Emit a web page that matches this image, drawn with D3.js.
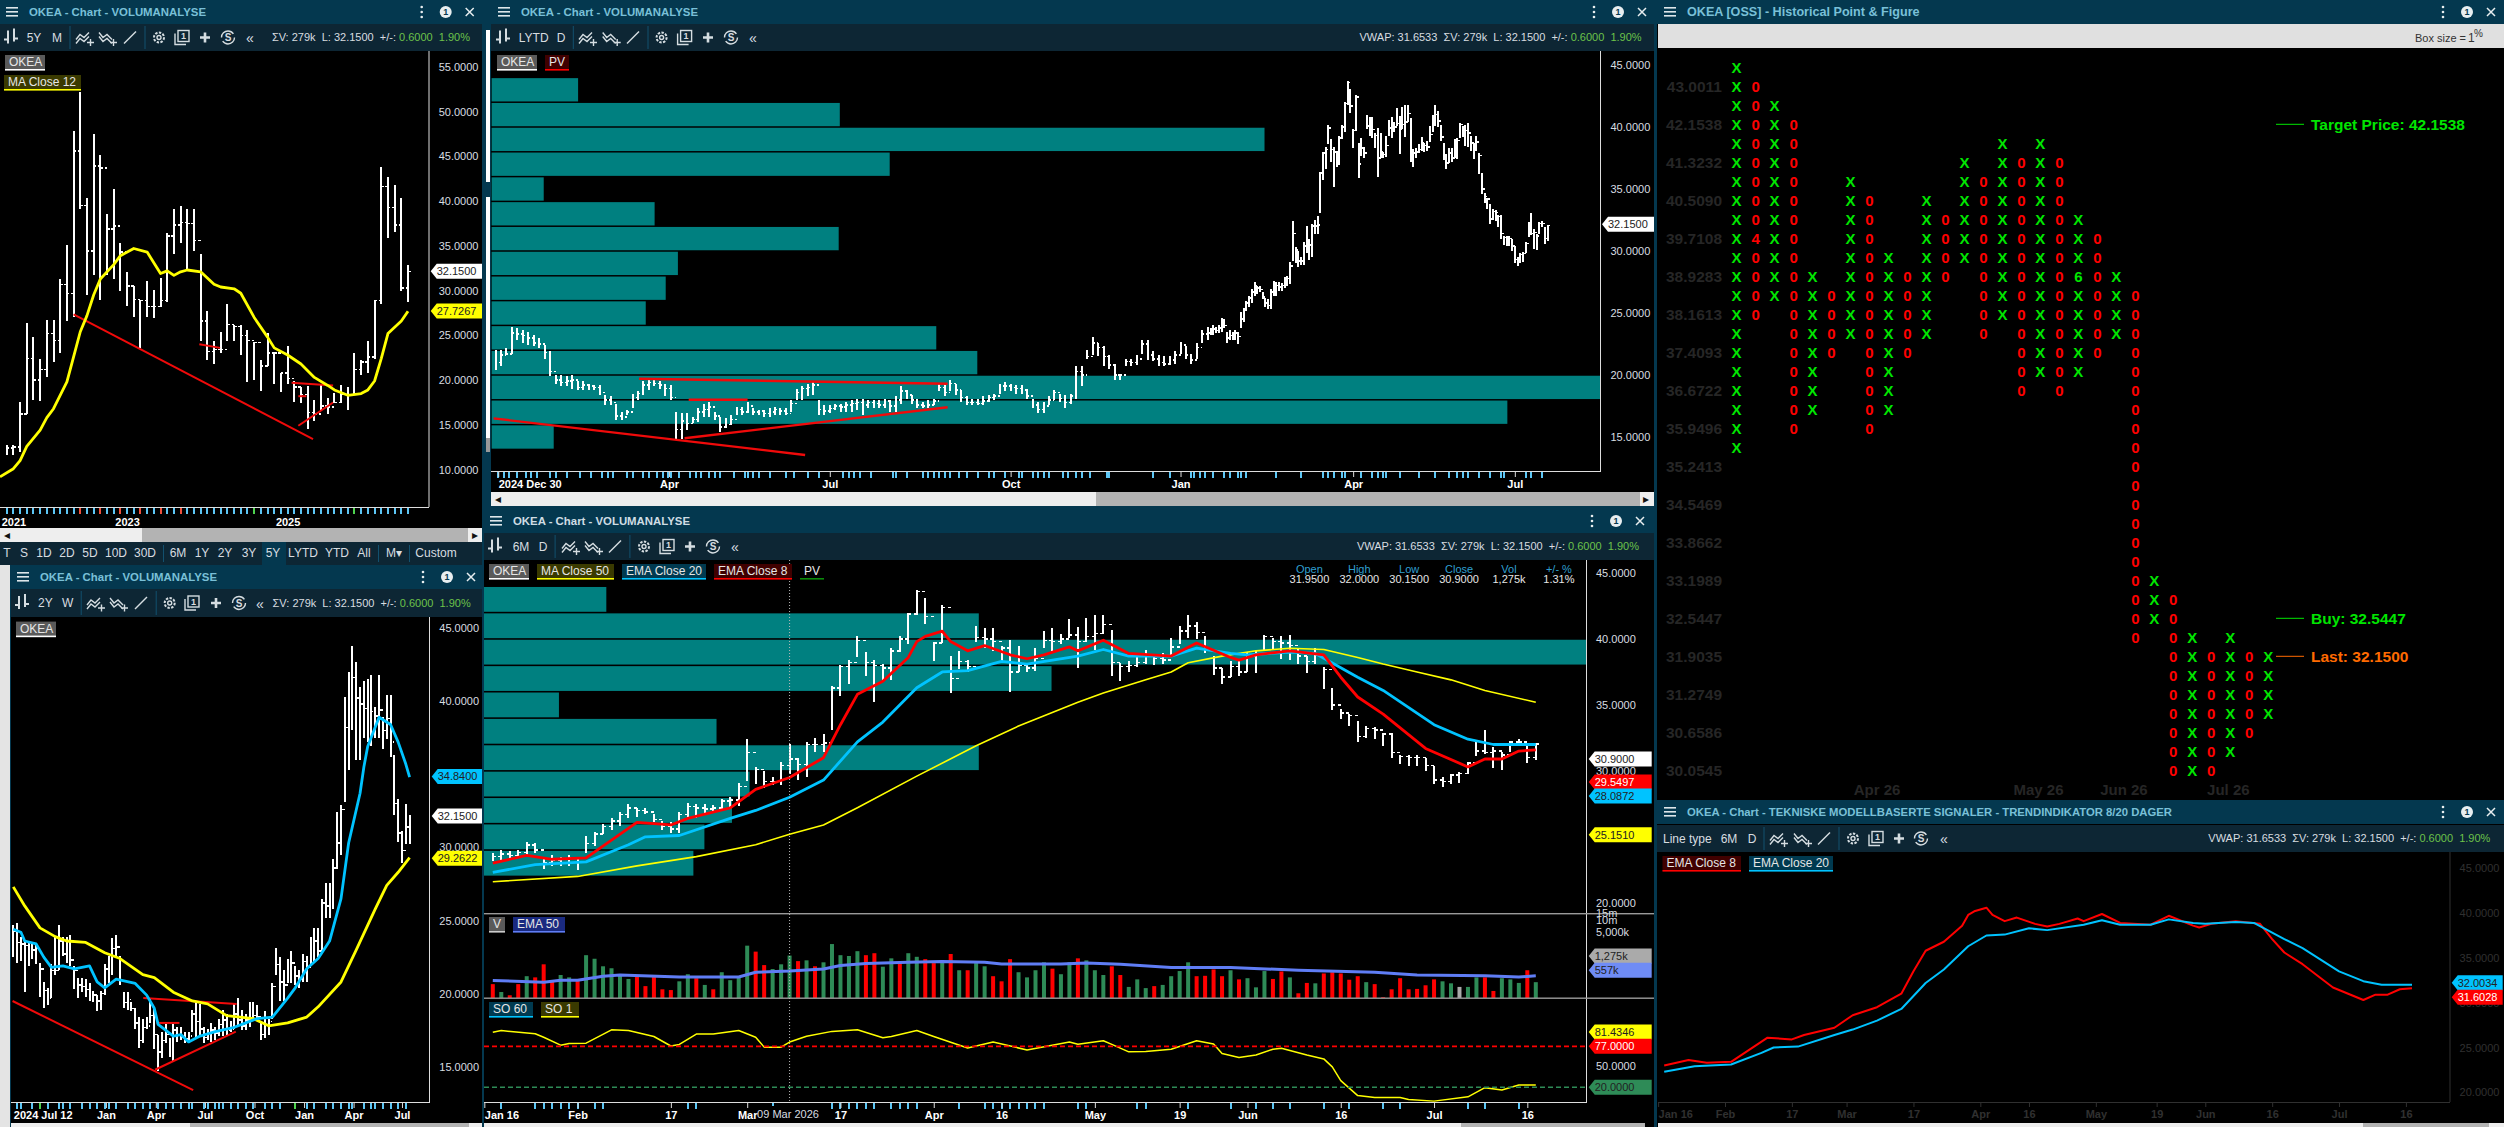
<!DOCTYPE html>
<html>
<head>
<meta charset="utf-8">
<script src="https://cdn.jsdelivr.net/npm/d3@7"></script>
<style>
  html, body { margin: 0; padding: 0; background: #04384f; overflow: hidden; }
  svg { display: block; }
  text { font-family: 'Liberation Sans', Arial, sans-serif; }
</style>
</head>
<body>
<script>
// monthly bars, 5Y panel: [high, low, close]
const monthlyBars = [
  [12.8,11.6,12.4],[12.8,11.6,12.5],[17.5,12.0,16.2],[26.4,16.2,22.4],[24.8,17.8,20.0],[22.4,17.7,21.2],[26.7,20.4,25.2],[26.7,22.0,24.4],[31.3,23.0,30.7],[35.1,26.6,29.7],
  [47.8,27.0,45.6],[52.2,39.1,39.5],[40.3,29.5,34.4],[47.5,31.7,43.9],[45.2,28.9,43.7],[38.6,31.7,36.9],[41.3,31.3,37.2],[35.3,29.9,34.3],[32.1,28.3,30.5],[30.5,27.0,29.0],
  [29.0,23.6,28.9],[31.1,27.0,28.2],[30.1,26.9,28.2],[31.4,28.2,28.9],[36.4,28.7,36.1],[39.1,34.1,37.3],[39.4,35.3,37.6],[39.1,32.3,37.5],[39.1,34.4,35.6],[34.1,24.4,26.6],
  [27.7,22.2,23.2],[24.4,21.8,23.4],[25.4,23.0,23.4],[28.5,24.4,26.2],[26.2,24.4,26.0],[26.2,22.8,25.0],[25.6,19.8,24.4],[24.2,20.0,24.2],[22.2,18.8,21.6],[25.3,21.6,23.0],
  [23.0,19.6,23.0],[20.8,18.7,20.8],[23.8,19.6,20.2],[19.9,17.6,19.2],[19.2,17.4,18.4],[19.3,14.5,16.4],[17.8,15.4,16.2],[19.4,16.6,17.1],[18.0,16.2,17.0],[18.6,17.4,17.5],
  [19.5,17.4,18.4],[19.2,16.7,18.4],[23.0,18.4,21.2],[22.2,20.6,22.0],[24.4,20.8,22.6],[29.0,22.4,28.9],[43.8,28.5,41.6],[42.7,35.9,39.3],[41.8,36.5,37.3],[40.3,29.9,30.3],
  [32.9,28.7,32.15]
];
// [bar number, value]
const monthlyMa12 = [[-1,9.2],[1,10.1],[2,11.0],[3,12.6],[5,14.4],[6,15.8],[7,16.8],[9,19.8],[10,22.6],[11,25.4],[12,27.2],[13,29.5],[14,31.3],[16,32.9],[17,33.9],[19,34.7],[21,34.3],[23,31.9],[24,32.2],[25,31.7],[26,32.1],[27,32.3],[29,32.1],[31,30.7],[32,30.4],[34,30.2],[35,29.7],[37,27.0],[39,24.8],[40,23.6],[42,22.8],[44,21.8],[46,20.3],[48,19.4],[49,18.9],[51,18.3],[53,18.5],[54,18.9],[55,19.9],[56,22.4],[57,25.2],[59,26.6],[60,27.7]];
const monthlyTrend = [[10,27.35,45.8,13.4],[42.6,19.7,48.8,19.4],[43.6,14.9,48.8,17.5],[28.8,24.0,31.9,23.6],[43.6,18.2,44.8,18.2]];
const monthlyRedTicks = [11,14,17,20,23,26];
const monthlyGreenTicks = [37,52];
const monthlyTickBars = [1,18,42];
const monthlyTickLabels = ['2021','2023','2025'];

// weekly bars, 2Y panel: [high, low, close]
const weeklyBars = [
  [24.7,22.5,24.3],[24.8,22.1,23.5],[23.9,22.2,23.4],[23.5,20.1,23.3],[23.5,21.9,22.8],[23.4,22.4,23.0],[23.3,22.0,23.1],[22.1,19.8,21.7],[20.8,19.0,20.2],[20.4,19.2,19.7],
  [22.0,19.7,21.6],[23.9,21.3,21.6],[24.7,21.6,23.6],[23.9,22.6,22.7],[23.9,22.1,23.1],[24.0,21.9,22.3],[21.9,20.3,21.6],[21.1,19.7,20.6],[21.1,20.1,20.5],[21.0,19.8,20.3],
  [20.7,19.5,20.1],[20.2,19.4,19.9],[19.9,18.8,19.5],[20.2,18.9,20.0],[22.0,19.9,21.7],[22.6,20.7,22.4],[23.8,21.3,23.1],[24.0,22.6,23.2],[22.6,20.6,20.9],[20.1,19.0,19.4],
  [20.1,18.9,19.6],[19.4,18.8,19.0],[19.0,17.6,18.0],[18.4,16.3,16.8],[18.3,16.6,17.7],[18.4,17.6,17.8],[19.7,18.0,18.5],[19.0,16.2,17.2],[17.2,14.7,16.0],[17.4,15.6,16.8],
  [17.9,16.6,17.2],[17.0,15.7,16.4],[17.9,15.4,17.5],[17.7,16.7,17.2],[17.7,16.8,17.0],[17.4,16.6,16.9],[17.4,16.6,17.1],[18.9,17.4,18.6],[19.4,17.0,18.1],[19.3,17.1,17.6],
  [17.7,16.6,17.0],[17.6,16.8,17.2],[18.0,16.7,17.5],[17.7,16.8,17.3],[18.3,17.1,17.9],[18.9,17.1,18.2],[18.6,17.2,17.5],[18.1,17.4,17.6],[19.3,17.6,18.6],[19.7,17.7,18.2],
  [18.9,17.5,17.8],[18.6,17.5,18.2],[19.4,17.7,18.8],[19.4,18.1,18.5],[19.2,18.1,18.4],[18.1,16.8,17.2],[18.8,17.0,17.9],[18.3,17.2,18.1],[20.7,18.3,20.5],[23.1,21.3,22.0],
  [22.5,19.5,20.8],[21.6,19.5,20.6],[22.4,20.7,21.5],[22.9,20.7,22.1],[21.9,20.6,21.2],[21.6,20.4,21.0],[22.7,20.8,22.2],[22.6,20.8,21.8],[23.9,22.0,23.4],[24.5,22.1,23.6],
  [24.5,22.5,22.9],[26.5,22.9,26.2],[27.6,25.2,26.0],[27.6,25.2,27.0],[29.2,25.8,28.6],[32.4,28.5,30.3],[32.9,29.5,32.6],[40.3,33.1,38.2],[42.0,35.3,40.5],[43.8,38.0,41.6],
  [42.7,36.0,40.2],[41.0,36.0,39.8],[41.4,37.5,39.5],[41.5,37.2,38.9],[41.8,36.9,39.3],[39.6,37.5,39.0],[41.8,37.5,39.4],[38.9,36.7,38.0],[40.4,37.4,38.8],[40.4,36.2,37.2],
  [36.3,32.2,33.0],[33.3,30.4,31.0],[31.1,28.9,29.8],[33.0,30.2,31.4],[32.2,30.2,32.15]
];
const weeklyEma = [[0,24.4],[2,24.2],[3,23.6],[6,23.4],[8,22.5],[10,21.8],[13,21.9],[16,21.7],[20,21.9],[22,20.8],[24,20.4],[27,21.0],[32,20.7],[35,19.9],[37,19.0],[38,17.9],[42,17.1],[44,17.2],[46,16.7],[49,17.1],[53,17.4],[58,17.7],[61,18.0],[64,18.3],[68,18.4],[72,19.7],[74,20.4],[77,21.7],[80,22.4],[83,23.6],[86,26.5],[88,30.3],[91,33.7],[92,35.5],[93,36.9],[96,38.9],[99,38.4],[101,37.2],[103,35.7],[104,34.8]];
const weeklyMa = [[0,27.3],[3,26.0],[7,24.5],[11,23.9],[14,23.6],[19,23.5],[24,22.8],[28,22.4],[34,21.3],[37,21.1],[42,20.1],[47,19.5],[51,19.3],[56,18.5],[63,18.3],[67,17.8],[72,18.0],[77,18.4],[80,19.1],[86,20.8],[90,23.0],[95,25.8],[98,27.4],[101,28.3],[104,29.3]];
const weeklyTrend = [[-0.2,19.5,47.2,13.4],[34.1,19.7,58.6,19.3],[37.2,14.8,58.4,17.4],[37.6,18,43.6,18]];
const weeklyMinorTicks = [1,2,5,7,9,12,13,15,18,20,22,24,25,27,30,32,34,36,38,40,42,44,46,47,50,51,53,54,55,57,59,61,63,66,68,70,74,77,79,82,84,86,88,89,92,94,95,97,99,101,103];
const weeklyGreenTicks = [7,74];
const weeklyTickBars = [0,24.3,37.4,50.3,63.3,76.3,89.3,102];
const weeklyTickLabels = ['2024 Jul 12','Jan','Apr','Jul','Oct','Jan','Apr','Jul'];

// 2025 part of the LYTD panel, one bar for each second trading day: [high, low, close]
const lytd2025Bars = [
  [22.0,20.4,21.0],[22.0,20.7,21.6],[22.2,21.6,21.7],[23.9,21.7,23.4],[23.8,22.8,23.3],[23.6,22.6,23.2],[23.5,22.4,23.0],[23.2,22.3,22.6],[23.0,22.2,22.5],[22.4,21.3,21.8],
  [21.9,19.9,20.3],[20.0,19.3,19.6],[20.0,19.1,19.4],[19.9,19.1,19.5],[20.0,18.9,19.6],[19.5,18.8,19.0],[19.5,18.8,19.2],[19.3,18.8,19.1],[19.2,18.8,19.0],[19.2,18.4,18.6],
  [18.4,17.6,18.0],[18.3,17.6,17.8],[17.7,16.4,16.7],[17.0,16.4,16.6],[17.2,16.8,17.0],[18.5,17.3,18.2],[18.7,18.0,18.5],[19.5,18.4,19.2],[19.6,18.8,19.4],[19.6,19.1,19.3],
  [19.5,18.9,19.2],[19.3,18.3,18.9],[19.2,18.0,18.2],[17.0,14.8,15.6],[16.9,14.8,16.3],[16.9,15.6,16.1],[16.6,16.1,16.4],[17.3,16.2,17.0],[17.7,16.6,17.2],[17.8,16.6,17.4],
  [17.0,16.4,16.7],[16.6,15.4,15.8],[16.5,15.7,16.0],[16.8,16.0,16.4],[17.4,16.8,17.2],[17.4,16.8,17.0],[17.8,16.9,17.5],[17.3,16.8,17.0],[17.2,16.8,17.1],[17.2,16.6,16.9],
  [17.3,16.6,17.0],[17.4,16.8,17.2],[17.3,16.8,17.1],[17.3,16.8,16.9],[18.0,17.0,17.7],[18.9,18.0,18.6],[19.1,18.0,18.9],[19.3,18.3,19.0],[19.5,18.4,19.2],[18.0,16.8,17.2],
  [17.6,16.8,17.1],[17.6,16.9,17.3],[17.7,17.2,17.5],[17.7,17.0,17.4],[17.8,17.0,17.6],[18.0,17.0,17.7],[18.1,17.2,17.8],[18.1,16.8,17.6],[18.0,17.3,17.8],[18.0,17.3,17.7],
  [18.0,17.3,17.6],[18.1,17.3,17.9],[18.0,17.0,17.5],[18.3,17.0,18.0],[19.1,17.7,18.7],[18.8,18.1,18.4],[18.4,17.7,18.0],[18.1,17.3,17.6],[17.8,17.3,17.5],[18.0,17.3,17.6],
  [18.1,17.6,17.9],[19.3,18.7,19.0],[19.3,18.3,18.6],[19.6,18.7,19.3],[19.3,18.4,18.8],[18.8,17.8,18.2],[18.3,17.6,17.8],[18.1,17.6,17.8],[18.1,17.6,17.7],[18.3,17.6,17.9],
  [18.4,17.8,18.2],[18.5,18.0,18.3],[19.3,18.5,19.1],[19.4,18.7,19.1],[19.3,18.7,19.0],[19.2,18.5,18.9],[19.2,18.5,18.8],[18.9,18.1,18.3],[18.1,17.3,17.6],[17.8,16.9,17.2],
  [17.8,16.9,17.5],[18.3,17.6,18.0],[18.8,18.0,18.6],[18.5,17.8,18.1],[18.4,17.3,17.8],[18.5,17.7,18.3],[20.7,18.1,20.3],[20.7,19.1,20.0],[22.0,21.3,21.5],[23.1,21.6,22.6],
  [22.6,21.5,22.2],[22.3,20.7,21.5],[21.6,20.5,20.8],[20.9,19.6,20.0],[20.1,19.6,20.0],[21.3,20.7,21.1],[21.3,20.7,21.0],[21.6,20.8,21.3],[22.8,21.7,22.5],[22.8,21.2,21.6],
  [21.9,21.1,21.3],[21.6,20.7,21.0],[21.5,20.7,20.9],[21.5,20.8,21.2],[21.9,20.9,21.6],[22.7,21.7,22.4],[22.3,21.3,21.6],[21.7,20.9,21.2],[22.6,21.3,22.2],[23.6,22.6,23.3],[23.9,22.8,23.4]
];
const lytdVolumeLows = [42,40,38,36,34,32,30,28,26,24,22,20,18,16,14];
const lytdVolumePct = [7.8,31.4,69.7,35.9,4.7,14.7,31.3,16.8,15.7,13.9,40.1,43.8,100,91.6,5.6];
const lytdTrend = [[52.4,19.7,165,19.3],[70.5,18,92,18],[69,14.9,165,17.4],[-0.7,16.5,113,13.55]];
const lytdMinorTicks = [1,3,5,8,11,13,15,20,22,26,31,35,39,41,43,48,50,54,56,59,61,63,64,67,71,73,75,78,80,82,87,91,92,94,96,100,106,109,114,118,127,129,131,133,137,145,146,150,156,158,160,162,164,166,169,172,176,180,182,186,191,192,196,198,200,202,207,209,212,214,217,223,224,240,246,254,255,257,259,262,266,268,271,272,274,285,294,302,304,306,309,310,316,320,322,324,325,330,337,343,348,351,353,355,359,363,367,368,376,378,382];
const lytdTickDays = [1,63.3,122,188,250,313,372];
const lytdTickLabels = ['2024 Dec 30','Apr','Jul','Oct','Jan','Apr','Jul'];

// daily bars, 6M panel: [high, low, close]
const dailyBars = [
  [23.8,23.2,23.5],[24.0,23.2,23.7],[23.9,23.4,23.6],[24.0,23.4,23.8],[24.6,23.5,24.4],[24.5,23.8,24.0],[23.5,22.6,23.0],[23.6,22.8,23.2],[23.5,22.8,23.3],[23.6,22.8,23.4],
  [23.5,22.5,23.1],[25.1,23.8,24.5],[25.4,24.3,25.2],[26.0,25.2,25.8],[26.4,25.5,26.2],[26.9,25.8,26.7],[27.5,26.4,27.2],[27.2,26.5,27.0],[27.2,26.7,26.9],[26.7,26.1,26.3],
  [26.2,25.5,25.8],[26.1,25.3,25.6],[26.9,25.3,26.7],[27.6,26.4,27.3],[27.5,26.4,27.2],[27.5,26.8,27.1],[27.4,26.8,27.2],[27.9,27.0,27.7],[28.0,27.2,27.8],[29.1,27.3,28.8],
  [32.4,29.2,31.4],[30.3,29.0,30.1],[30.0,28.7,29.2],[29.5,28.9,29.2],[30.7,28.9,30.4],[32.0,29.8,30.9],[31.0,29.3,30.5],[32.2,29.5,32.0],[32.5,31.4,32.0],[32.8,31.4,32.1],
  [36.4,33.1,36.3],[38.0,35.7,37.9],[38.4,36.6,38.2],[40.2,38.6,39.9],[39.0,37.2,38.2],[38.4,35.2,38.0],[38.1,36.8,37.8],[39.3,36.9,39.1],[40.2,39.0,40.0],[42.0,39.6,41.9],
  [43.7,41.8,43.6],[43.1,41.1,41.7],[39.8,38.3,39.7],[42.6,39.7,42.4],[38.7,35.9,37.0],[39.1,37.7,38.3],[38.4,37.5,37.9],[41.0,39.8,40.1],[40.8,39.3,40.0],[40.8,39.1,39.8],
  [39.5,38.3,39.3],[39.9,36.0,37.5],[39.5,37.5,38.0],[38.0,37.5,37.8],[39.3,37.6,38.5],[40.6,39.3,39.9],[40.8,39.1,39.8],[40.4,39.6,40.0],[41.5,40.1,40.3],[40.9,37.8,39.8],
  [41.6,39.8,40.2],[41.8,39.2,40.4],[41.8,40.4,41.1],[40.7,37.2,38.2],[38.2,36.8,37.9],[38.3,37.5,38.0],[38.6,37.9,38.2],[39.2,38.1,38.7],[38.7,38.0,38.5],[38.9,38.1,38.4],
  [40.1,38.8,39.4],[41.0,39.6,40.6],[41.8,40.1,41.0],[41.3,40.0,40.5],[40.2,38.9,39.2],[38.7,37.3,37.8],[37.8,36.6,37.1],[38.3,37.1,37.9],[38.3,37.2,37.5],[39.0,37.5,38.7],
  [39.1,37.4,38.9],[40.3,39.1,40.2],[40.1,39.2,39.8],[40.2,38.5,39.7],[40.3,38.4,39.5],[39.3,38.1,38.7],[38.7,37.4,38.3],[39.3,38.1,38.8],[37.9,36.2,37.7],[36.3,34.6,35.0],
  [34.7,33.9,34.4],[34.3,33.4,34.2],[33.8,32.2,32.6],[33.4,32.5,33.2],[33.3,32.4,33.1],[32.9,31.9,32.8],[32.9,31.0,31.4],[31.2,30.5,31.1],[31.2,30.4,31.0],[31.2,30.4,31.0],
  [31.0,30.0,30.4],[30.4,29.0,29.3],[29.5,28.8,29.2],[29.8,29.0,29.7],[29.9,29.1,29.8],[30.7,29.8,30.6],[32.3,31.1,31.5],[33.1,31.3,31.4],[31.8,30.2,31.5],[31.4,30.1,31.2],
  [32.3,31.4,32.2],[32.4,31.9,32.2],[31.9,30.6,31.0],[32.1,30.8,32.05]
];
const dailyMa50 = [[0,21.6],[10,22.0],[17,22.8],[24,23.5],[31,24.4],[35,25.2],[39,25.9],[43,27.2],[50,29.6],[57,31.9],[62,33.4],[69,35.2],[72,35.9],[77,36.9],[80,37.5],[82,38.2],[86,38.7],[90,39.1],[94,39.3],[98,39.2],[102,38.6],[105,38.1],[109,37.5],[113,36.9],[117,36.1],[123,35.2]];
const dailyEma20 = [[0,22.3],[5,22.9],[11,23.1],[16,24.4],[18,25.0],[22,25.1],[28,26.4],[31,27.0],[35,28.0],[39,29.3],[43,32.2],[46,33.7],[50,36.3],[53,37.5],[56,37.6],[60,38.3],[63,38.1],[69,38.7],[72,39.2],[75,38.7],[80,38.7],[83,39.3],[87,38.9],[89,38.8],[94,39.0],[97,38.9],[102,37.1],[105,36.1],[111,33.5],[115,32.4],[118,32.0],[123,32.0]];
const dailyEma8 = [[0,23.0],[4,23.6],[7,23.3],[11,23.4],[17,26.1],[21,25.9],[23,26.4],[28,27.2],[31,28.6],[35,29.5],[39,31.0],[41,33.5],[43,35.8],[46,36.8],[49,38.6],[50,39.8],[51,40.2],[53,40.6],[54,39.8],[56,39.1],[58,39.5],[61,38.8],[63,38.5],[65,38.8],[68,39.4],[69,39.1],[72,39.9],[75,38.9],[80,38.7],[83,39.7],[87,38.6],[88,38.4],[90,38.8],[94,39.1],[98,38.8],[100,37.1],[102,35.6],[105,34.3],[110,31.7],[115,30.3],[117,30.9],[119,30.9],[121,31.5],[123,31.6]];
const dailyVolumeLows = [42,40,38,36,34,32,30,28,26,24,22];
const dailyVolumePct = [11.1,44.9,100,51.5,6.8,21.1,44.9,24.1,22.5,20,19];
// volume in thousands, direction R up-day red, G green, N flat
const dailyVolume = [
  248,157,130,248,393,367,783,292,421,367,312,1330,1081,698,623,441,335,393,221,393,
  184,176,292,441,350,237,184,495,312,393,2310,1634,748,595,783,1300,943,986,698,879,
  2535,1330,1268,1677,1330,1490,682,1107,879,1490,1210,1057,840,986,1424,555,555,840,698,393,
  292,1057,495,367,555,879,609,441,879,1107,
  986,555,421,698,421,211,327,197,221,237,393,530,879,393,402,581,393,555,327,350,
  206,530,335,518,367,146,266,260,461,495,461,320,393,278,248,116,184,350,184,188,
  232,327,292,260,211,211,367,367,167,350,327,266,555,278
];
const dailyVolumeDir = 'RGRRGRRRGGRGGGGGGRRRRRGGRGRGGGGRRGGGRGRGGGGGRRGGRGGRRGRGRGGRRRGGGGRGGRGGGRRGGGRGGGGRRRRGRGGGRRGRRGRRRRRGRRRRRRRRGGNGGRRGGGRG';
const dailyVolumeEma = [[0,305],[6,278],[8,312],[10,312],[13,393],[15,421],[22,375],[29,375],[31,495],[35,530],[39,595],[41,731],[44,820],[49,879],[53,921],[58,879],[60,800],[67,800],[70,840],[74,783],[80,650],[87,650],[95,555],[104,495],[109,421],[117,402],[121,375],[123,402]];
const dailySo = [[0,96.7],[1,98.9],[5,94.5],[6,89.6],[8,78.6],[9,80.8],[11,81.4],[14,100],[16,99],[19,90.7],[21,77.5],[22,79.7],[24,94],[26,94],[29,99],[31,89.6],[32,75.9],[34,75.9],[35,83],[37,91],[40,97.8],[43,100],[46,89],[47,90.7],[50,99],[52,90.7],[56,74.8],[59,83],[63,72],[68,83],[69,80],[72,84.7],[73,79.7],[75,69.3],[77,69.9],[80,73],[83,84.7],[85,80.3],[86,67],[88,61.6],[90,65],[92,73],[93,74.2],[96,65],[98,59.5],[99,48.5],[100,29.3],[102,8.5],[104,5.8],[107,5.8],[108,3],[111,0.8],[115,6.8],[117,19.5],[119,16.2],[121,23.3],[123,23.3]];
const dailyMinorTicks = [1,5,6,7,8,9,10,12,13,23,24,33,40,41,42,43,44,45,47,48,49,50,55,58,59,60,61,62,63,64,65,69,70,76,77,82,87,90,92,94,98,101,105,107,115,117,121];
const dailyTickBars = [-1,10,21,30,41,52,60,71,81,89,100,111,122];
const dailyTickLabels = ['Jan 16','Feb','17','Mar','17','Apr','16','May','19','Jun','16','Jul','16'];

// point & figure columns
const pfKinds = 'X0X0X0X0X0X0X0X0X0X0X0X0X0X0X';
const pfTops =    [0,1,2,3,11,12,6,7,10,11,7,8,5,6,4,5,4,5,8,9,11,12,27,28,30,31,30,31,31];
const pfBottoms = [20,13,12,19,18,15,14,19,18,15,14,11,10,14,13,17,16,17,16,15,14,30,29,37,37,37,36,35,34];
const pfSpecial = [[1,9,'4'],[18,11,'6']];
const pfRowLabels = [[1,'43.0011'],[3,'42.1538'],[5,'41.3232'],[7,'40.5090'],[9,'39.7108'],[11,'38.9283'],[13,'38.1613'],[15,'37.4093'],[17,'36.6722'],[19,'35.9496'],[21,'35.2413'],[23,'34.5469'],[25,'33.8662'],[27,'33.1989'],[29,'32.5447'],[31,'31.9035'],[33,'31.2749'],[35,'30.6586'],[37,'30.0545']];
const pfMonths = [['Apr 26',7.4],['May 26',15.9],['Jun 26',20.4],['Jul 26',25.9]];

const C = { title: '#04384f', tool: '#0d2634', teal: '#008080', yellow: '#ffff00', blue: '#00c3ff', red: '#ff0000', tick: '#5cc6f5', text: '#d8dde0', titleText: '#79c0d8', green: '#6cc24a', lime: '#00e600', dim: '#303030' };

const svg = d3.select('body').append('svg').attr('width', 2504).attr('height', 1127);
svg.append('rect').attr('width', 2504).attr('height', 1127).attr('fill', '#04384f');

const rect = (g, x, y, w, h, fill) => g.append('rect').attr('x', x).attr('y', y).attr('width', w).attr('height', h).attr('fill', fill);
const label = (g, x, y, s, o = {}) => g.append('text').attr('x', x).attr('y', y).attr('dy', '0.35em')
  .attr('font-size', o.size || 11).attr('font-weight', o.bold ? 'bold' : null)
  .attr('fill', o.fill || C.text).attr('text-anchor', o.anchor || 'start').text(s);

const lineOf = (x, y) => d3.line().x(d => x(d[0])).y(d => y(d[1]));

function drawLine(g, data, x, y, color, width) {
  g.append('path').datum(data).attr('fill', 'none').attr('stroke', color).attr('stroke-width', width)
    .attr('stroke-linejoin', 'round').attr('d', lineOf(x, y));
}

function drawBars(g, bars, xOf, y, width, tick) {
  const stems = g.append('g').attr('stroke', '#fff').attr('stroke-width', width).attr('shape-rendering', 'crispEdges');
  stems.selectAll('line.stem').data(bars).join('line').attr('class', 'stem')
    .attr('x1', d => xOf(d)).attr('x2', d => xOf(d)).attr('y1', d => y(d.h)).attr('y2', d => y(d.l));
  stems.selectAll('line.close').data(bars).join('line').attr('class', 'close').attr('stroke-width', 1.5)
    .attr('x1', d => xOf(d)).attr('x2', d => xOf(d) + tick).attr('y1', d => y(d.c)).attr('y2', d => y(d.c));
  stems.selectAll('line.open').data(bars.filter(d => d.o !== undefined)).join('line').attr('class', 'open').attr('stroke-width', 1.5)
    .attr('x1', d => xOf(d) - tick).attr('x2', d => xOf(d)).attr('y1', d => y(d.o)).attr('y2', d => y(d.o));
}
// previous close stands in for the left tick
const toBars = rows => rows.map((r, i) => ({ i, h: r[0], l: r[1], c: r[2], o: i ? rows[i - 1][2] : undefined }));

function drawTrend(g, segs, x, y, width) {
  g.append('g').attr('stroke', '#f00a0a').attr('stroke-width', width).selectAll('line').data(segs).join('line')
    .attr('x1', d => x(d[0])).attr('y1', d => y(d[1])).attr('x2', d => x(d[2])).attr('y2', d => y(d[3]));
}

function volumeProfile(g, lows, pct, xv, y) {
  g.append('g').selectAll('rect').data(lows).join('rect')
    .attr('x', xv(0)).attr('y', d => y(d + 1.94)).attr('height', d => y(d + 0.06) - y(d + 1.94))
    .attr('width', (d, i) => xv(pct[i]) - xv(0)).attr('fill', C.teal);
}

function priceAxis(g, y, ticks, x, fmt, color) {
  const a = g.append('g').attr('transform', `translate(${x},0)`)
    .call(d3.axisRight(y).tickValues(ticks).tickFormat(fmt || d3.format('.4f')).tickSize(0).tickPadding(10));
  a.select('.domain').remove();
  a.selectAll('text').attr('font-size', 11).attr('font-family', "'Liberation Sans'").attr('fill', color || C.text);
}

function timeAxis(g, x, ticks, labels, yPos, color) {
  const a = g.append('g').attr('transform', `translate(0,${yPos})`)
    .call(d3.axisBottom(x).tickValues(ticks).tickFormat((d, i) => labels[i]).tickSize(5).tickPadding(3));
  a.select('.domain').remove();
  a.selectAll('line').attr('stroke', color || '#ddd');
  a.selectAll('text').attr('font-size', 11).attr('font-weight', 'bold').attr('font-family', "'Liberation Sans'").attr('fill', color || '#fff');
  return a;
}

function minorTicks(g, x, ticks, yPos, colorOf) {
  g.append('g').attr('shape-rendering', 'crispEdges').selectAll('rect').data(ticks).join('rect')
    .attr('x', d => x(d) - 1).attr('y', yPos).attr('width', 2).attr('height', 6).attr('fill', colorOf || C.tick);
}

function tag(g, x, yc, w, s, bg, fg) {
  g.append('path').attr('d', `M${x},${yc} L${x + 6},${yc - 7.5} H${x + w} V${yc + 7.5} H${x + 6} Z`).attr('fill', bg);
  label(g, x + 6, yc, s, { fill: fg });
}

function badge(g, x, y, w, s, bg, under) {
  rect(g, x, y, w, 15, bg);
  rect(g, x, y + 14, w, 1.6, under);
  label(g, x + 4, y + 7, s, { fill: '#e6e6e6', size: 12 });
}

function titleBar(g, x, w, y, hamburger, titleX, title, dotsX, active, size) {
  rect(g, x, y, w, 24, C.title);
  [-4, 0, 4].forEach(d => rect(g, hamburger - 6, y + 11 + d, 12, 1.6, '#dde6ea'));
  label(g, titleX, y + 12, title, { bold: true, size: size || 11.4, fill: active ? '#cfdde4' : C.titleText });
  [-5, 0, 5].forEach(d => g.append('circle').attr('cx', dotsX).attr('cy', y + 12 + d).attr('r', 1.3).attr('fill', '#e8eef0'));
  g.append('circle').attr('cx', dotsX + 24).attr('cy', y + 12).attr('r', 6).attr('fill', '#e8eef0');
  label(g, dotsX + 24, y + 12, '1', { anchor: 'middle', size: 9, bold: true, fill: '#04384f' });
  g.append('path').attr('d', `M${dotsX + 44},${y + 8} l8,8 M${dotsX + 52},${y + 8} l-8,8`).attr('stroke', '#e8eef0').attr('stroke-width', 1.5);
}

function toolbar(g, x, w, y, h, xs, range, res, stats) {
  rect(g, x, y, w, h, C.tool);
  const m = y + h / 2, ic = '#d5dde1';
  const p = g.append('g').attr('fill', 'none').attr('stroke', ic).attr('stroke-width', 1.4);
  const i = xs.ohlc;
  p.append('path').attr('d', `M${i - 3},${m - 7} V${m + 6} M${i - 7},${m + 2} H${i - 3} M${i + 3},${m - 9} V${m + 4} M${i + 3},${m + 1} H${i + 7}`).attr('stroke-width', 2);
  label(g, xs.range, m, range, { anchor: 'middle', size: 12 });
  label(g, xs.res, m, res, { anchor: 'middle', size: 12 });
  rect(g, xs.div1, y + 2, 1, h - 4, '#12506e');
  p.append('path').attr('d', `M${xs.a - 8},${m + 2} l4,-5 l4,3 l5,-5 M${xs.a - 8},${m + 6} l4,-5 l4,3 l5,-5 M${xs.a + 3},${m + 5} h7 M${xs.a + 6.5},${m + 1.5} v7`);
  p.append('path').attr('d', `M${xs.b - 8},${m - 5} l4,5 l4,-3 l5,5 M${xs.b - 8},${m - 1} l4,5 l4,-3 l5,5 M${xs.b + 3},${m + 5} h7 M${xs.b + 6.5},${m + 1.5} v7`);
  p.append('path').attr('d', `M${xs.c - 6},${m + 6} L${xs.c + 6},${m - 6}`);
  rect(g, xs.div2, y + 2, 1, h - 4, '#12506e');
  p.append('circle').attr('cx', xs.gear).attr('cy', m).attr('r', 5).attr('stroke-width', 2).attr('stroke-dasharray', '2.4 1.4');
  p.append('circle').attr('cx', xs.gear).attr('cy', m).attr('r', 2);
  p.append('rect').attr('x', xs.doc - 4).attr('y', m - 7).attr('width', 11).attr('height', 11);
  p.append('path').attr('d', `M${xs.doc - 7},${m - 4} V${m + 7} H${xs.doc + 4}`);
  label(g, xs.doc + 1.5, m - 1.5, '1', { anchor: 'middle', size: 9, bold: true });
  p.append('path').attr('d', `M${xs.plus - 5},${m} H${xs.plus + 5} M${xs.plus},${m - 5} V${m + 5}`).attr('stroke-width', 2.6);
  p.append('circle').attr('cx', xs.sync).attr('cy', m).attr('r', 6.5).attr('stroke-dasharray', '16 4');
  label(g, xs.sync, m, 'S', { anchor: 'middle', size: 10, bold: true });
  label(g, xs.back, m + 1, '«', { anchor: 'middle', size: 14 });
  const t = label(g, xs.end, m, '', { anchor: 'end', size: 11 });
  stats.forEach(s => t.append('tspan').attr('fill', s[1] || C.text).text(s[0]));
}

const statsShort = [['ΣV: 279k\u00a0\u00a0L: 32.1500\u00a0\u00a0+/-: '], ['0.6000\u00a0\u00a01.90%', C.green]];
const statsLong = [['VWAP: 31.6533\u00a0\u00a0ΣV: 279k\u00a0\u00a0L: 32.1500\u00a0\u00a0+/-: '], ['0.6000\u00a0\u00a01.90%', C.green]];

// ---------- 5Y monthly panel
{
  const g = svg.append('g');
  rect(g, 0, 0, 482, 565, '#000');
  titleBar(g, 0, 482, 0, 12, 29, 'OKEA - Chart - VOLUMANALYSE', 421.7, false);
  toolbar(g, 0, 482, 24, 27, { ohlc: 11, range: 34, res: 57, div1: 69.5, a: 84, b: 107, c: 130, div2: 144.5, gear: 159, doc: 182, plus: 205, sync: 228, back: 250, end: 470 }, '5Y', 'M', statsShort);
  const x = d3.scaleLinear().domain([0, 60]).range([6.7, 408]);
  const y = d3.scaleLinear().domain([10, 55]).range([469.6, 66.8]);
  const bars = toBars(monthlyBars);
  drawBars(g, bars, d => x(d.i), y, 2, 2.5);
  drawTrend(g, monthlyTrend, x, y, 2);
  drawLine(g, monthlyMa12, x, y, C.yellow, 2.8);
  rect(g, 428.5, 51, 1, 456, '#ddd');
  rect(g, 0, 507, 429, 1, '#ddd');
  priceAxis(g, y, d3.range(10, 56, 5), 428.7);
  minorTicks(g, x, d3.range(61), 508, d => monthlyRedTicks.includes(d) ? '#f0503c' : monthlyGreenTicks.includes(d) ? '#4ed24e' : C.tick);
  timeAxis(g, x, monthlyTickBars, monthlyTickLabels, 510).selectAll('line').remove();
  tag(g, 430.7, y(32.15), 51.3, '32.1500', '#fff', '#222');
  tag(g, 430.7, y(27.7267), 51.3, '27.7267', C.yellow, '#222');
  badge(g, 5, 55, 40, 'OKEA', '#5a5a5a', '#fff');
  badge(g, 4, 75, 77, 'MA  Close 12', '#3a3a00', C.yellow);
  // scroll and range row
  rect(g, 0, 528, 482, 14, '#eeeeee');
  rect(g, 142, 528, 326, 14, '#b3b3b3');
  label(g, 7, 535, '◂', { anchor: 'middle', size: 12, fill: '#111' });
  label(g, 475, 535, '▸', { anchor: 'middle', size: 12, fill: '#111' });
  rect(g, 0, 542, 482, 23, C.tool);
  rect(g, 262, 542, 24, 23, '#04384f');
  [['T', 7], ['S', 24], ['1D', 44], ['2D', 67], ['5D', 90], ['10D', 116], ['30D', 145], ['6M', 178], ['1Y', 202], ['2Y', 225], ['3Y', 249], ['5Y', 273], ['LYTD', 303], ['YTD', 337], ['All', 364], ['M▾', 394], ['Custom', 436]]
    .forEach(d => label(g, d[1], 553, d[0], { anchor: 'middle', size: 12 }));
  [163, 378, 409].forEach(v => rect(g, v, 545, 1, 17, '#12506e'));
}

// ---------- 2Y weekly panel
{
  const g = svg.append('g');
  rect(g, 0, 565, 10, 562, '#e4e4e4');
  rect(g, 11, 565, 471, 562, '#000');
  titleBar(g, 11, 471, 565, 23, 40, 'OKEA - Chart - VOLUMANALYSE', 423, false);
  toolbar(g, 11, 471, 589, 28, { ohlc: 22, range: 45.3, res: 67.6, div1: 80.7, a: 95, b: 118, c: 141, div2: 155.7, gear: 169.7, doc: 192, plus: 216, sync: 239, back: 260, end: 470.7 }, '2Y', 'W', statsShort);
  const x = d3.scaleLinear().domain([0, 104]).range([13.3, 409.6]);
  const y = d3.scaleLinear().domain([15, 45]).range([1066.8, 628]);
  drawBars(g, toBars(weeklyBars), d => x(d.i), y, 2, 1.8);
  drawTrend(g, weeklyTrend, x, y, 2);
  drawLine(g, weeklyMa, x, y, C.yellow, 2.8);
  drawLine(g, weeklyEma, x, y, C.blue, 2.8);
  rect(g, 429, 617, 1, 486, '#ddd');
  rect(g, 11, 1102, 419, 1, '#ddd');
  priceAxis(g, y, d3.range(15, 46, 5), 429.3);
  minorTicks(g, x, weeklyMinorTicks, 1103, d => weeklyGreenTicks.includes(d) ? '#4ed24e' : C.tick);
  const a = timeAxis(g, x, weeklyTickBars, weeklyTickLabels, 1103);
  a.selectAll('text').filter((d, i) => i === 0).attr('text-anchor', 'start');
  a.selectAll('line').filter((d, i) => i === 0).remove();
  tag(g, 431.7, y(34.84), 50.3, '34.8400', C.blue, '#222');
  tag(g, 431.7, y(32.15), 50.3, '32.1500', '#fff', '#222');
  tag(g, 431.7, y(29.2622), 50.3, '29.2622', C.yellow, '#222');
  badge(g, 16, 621.6, 40, 'OKEA', '#5a5a5a', '#fff');
  rect(g, 11, 1123, 471, 4, '#eeeeee');
  rect(g, 190, 1123, 279, 4, '#b3b3b3');
}

// ---------- LYTD panel
{
  const g = svg.append('g');
  rect(g, 491, 0, 1163, 506, '#000');
  titleBar(g, 491, 1163, 0, 504, 521, 'OKEA - Chart - VOLUMANALYSE', 1594, false);
  toolbar(g, 491, 1163, 24, 27, { ohlc: 503, range: 533.7, res: 561, div1: 572.8, a: 587, b: 610.7, c: 633, div2: 647.5, gear: 661.6, doc: 684.6, plus: 708, sync: 731, back: 753, end: 1641.6 }, 'LYTD', 'D', statsLong);
  const x = d3.scaleLinear().domain([0, 384]).range([495.5, 1547.7]);
  const y = d3.scaleLinear().domain([15, 45]).range([437, 65]);
  const xv = d3.scaleLinear().domain([0, 100]).range([491.6, 1600.5]);
  volumeProfile(g, lytdVolumeLows, lytdVolumePct, xv, y);
  const bars = lytd2025Bars.map((r, k) => ({ t: k * 2, h: r[0], l: r[1], c: r[2], o: k ? lytd2025Bars[k - 1][2] : undefined }))
    .concat(toBars(dailyBars).map(d => ({ ...d, t: 261 + d.i })));
  drawBars(g, bars, d => x(d.t), y, 2, 1.8);
  drawTrend(g, lytdTrend, x, y, 2.4);
  rect(g, 1600, 51, 1, 420, '#ddd');
  rect(g, 491, 471, 1110, 1, '#ddd');
  priceAxis(g, y, d3.range(15, 46, 5), 1600.5);
  minorTicks(g, x, lytdMinorTicks, 472);
  const a = timeAxis(g, x, lytdTickDays, lytdTickLabels, 472);
  a.selectAll('text').filter((d, i) => i === 0).attr('text-anchor', 'start');
  tag(g, 1602, y(32.15), 52, '32.1500', '#fff', '#222');
  badge(g, 497, 55, 40, 'OKEA', '#5a5a5a', '#fff');
  badge(g, 545, 55, 24, 'PV', '#400000', '#f00');
  rect(g, 491, 492, 1163, 14, '#eeeeee');
  rect(g, 1096, 492, 544, 14, '#b3b3b3');
  label(g, 498, 499, '◂', { anchor: 'middle', size: 12, fill: '#111' });
  label(g, 1646, 499, '▸', { anchor: 'middle', size: 12, fill: '#111' });
  // edge of the window behind
  rect(g, 486, 30, 4, 152, '#fff');
  rect(g, 486, 197, 4, 241, '#fff');
  rect(g, 486, 438, 4, 14, '#999');
}

// ---------- 6M panel
{
  const g = svg.append('g');
  rect(g, 484, 510, 1170, 617, '#000');
  titleBar(g, 484, 1170, 509, 496, 513, 'OKEA - Chart - VOLUMANALYSE', 1592, true);
  toolbar(g, 484, 1170, 533, 27, { ohlc: 495, range: 521, res: 543, div1: 554.6, a: 570, b: 593, c: 615, div2: 629.4, gear: 644, doc: 667, plus: 690, sync: 713, back: 735, end: 1639 }, '6M', 'D', statsLong);
  const x = d3.scaleLinear().domain([0, 123]).range([492.8, 1535.8]);
  const y = d3.scaleLinear().domain([20, 45]).range([902.8, 573]);
  const xv = d3.scaleLinear().domain([0, 100]).range([484, 1586]);
  volumeProfile(g, dailyVolumeLows, dailyVolumePct, xv, y);
  drawBars(g, toBars(dailyBars), d => x(d.i), y, 2, 3);
  drawLine(g, dailyMa50, x, y, C.yellow, 1.6);
  drawLine(g, dailyEma20, x, y, C.blue, 2.8);
  drawLine(g, dailyEma8, x, y, C.red, 2.8);

  const yVol = d3.scaleLog().domain([111, 15000]).range([998, 913.4]);
  g.append('g').selectAll('rect').data(dailyVolume).join('rect')
    .attr('x', (d, i) => x(i) - 2).attr('width', 4).attr('y', d => yVol(d)).attr('height', d => 998 - yVol(d))
    .attr('fill', (d, i) => ({ R: '#ff0000', G: '#2e8b57', N: '#aaaaaa' })[dailyVolumeDir[i]]);
  drawLine(g, dailyVolumeEma, x, yVol, '#5f7df5', 3);

  const ySo = d3.scaleLinear().domain([0, 100]).range([1101.7, 1029.8]);
  drawLine(g, dailySo, x, ySo, C.yellow, 1.5);
  [[77, '#ff0000'], [20, '#2e8b57']].forEach(d => g.append('line').attr('x1', 484).attr('x2', 1586).attr('y1', ySo(d[0])).attr('y2', ySo(d[0]))
    .attr('stroke', d[1]).attr('stroke-width', 1.6).attr('stroke-dasharray', '5 3'));

  rect(g, 1586, 560, 1, 542, '#ddd');
  rect(g, 484, 913, 1170, 1.4, '#9a9a9a');
  rect(g, 484, 997.5, 1170, 1.4, '#9a9a9a');
  rect(g, 484, 1102, 1103, 1, '#ddd');
  priceAxis(g, y, [20, 30, 35, 40, 45], 1586);
  priceAxis(g, yVol, [5000, 10000, 15000], 1586, d => d >= 10000 ? (d / 1000) + 'm' : d3.format(',')(d) + 'k');
  priceAxis(g, ySo, [50], 1586);
  minorTicks(g, x, dailyMinorTicks, 1103);
  const a = timeAxis(g, x, dailyTickBars, dailyTickLabels, 1103);
  a.selectAll('text').filter((d, i) => i === 0).attr('text-anchor', 'start');

  // crosshair at 9 March
  g.append('line').attr('x1', x(35)).attr('x2', x(35)).attr('y1', 560).attr('y2', 1102)
    .attr('stroke', '#bbb').attr('stroke-dasharray', '1 2');
  rect(g, 758, 1106, 62, 15, '#000');
  label(g, 788, 1114, '09 Mar 2026', { anchor: 'middle' });

  tag(g, 1588.7, y(30.9), 63, '30.9000', '#fff', '#222');
  tag(g, 1588.7, 782, 63, '29.5497', C.red, '#fff');
  tag(g, 1588.7, y(28.0872), 63, '28.0872', C.blue, '#222');
  tag(g, 1588.7, y(25.151), 63, '25.1510', C.yellow, '#222');
  tag(g, 1588.7, yVol(1275), 63, '1,275k', '#aaaaaa', '#222');
  tag(g, 1588.7, yVol(557), 63, '557k', '#6f8cf5', '#222');
  tag(g, 1588.7, 1032, 63, '81.4346', C.yellow, '#222');
  tag(g, 1588.7, ySo(77), 63, '77.0000', C.red, '#fff');
  tag(g, 1588.7, ySo(20), 63, '20.0000', '#2e8b57', '#222');

  badge(g, 489, 564, 40, 'OKEA', '#5a5a5a', '#fff');
  badge(g, 537, 564, 77, 'MA  Close 50', '#3a3a00', C.yellow);
  badge(g, 622, 564, 84, 'EMA  Close 20', '#003a50', C.blue);
  badge(g, 714, 564, 78, 'EMA  Close 8', '#400000', C.red);
  badge(g, 800, 564, 24, 'PV', '#000', '#0a8a0a');
  badge(g, 489, 917, 16, 'V', '#5a5a5a', '#ccc');
  badge(g, 513, 917, 52, 'EMA  50', '#1a2a80', '#5f7df5');
  badge(g, 489, 1002, 44, 'SO  60', '#003a50', C.blue);
  badge(g, 541, 1002, 38, 'SO  1', '#3a3a00', C.yellow);

  const hdr = [['Open', '31.9500'], ['High', '32.0000'], ['Low', '30.1500'], ['Close', '30.9000'], ['Vol', '1,275k'], ['+/- %', '1.31%']];
  hdr.forEach((d, i) => {
    const cx = 1309.4 + i * 49.9;
    label(g, cx, 569, d[0], { anchor: 'middle', fill: '#2f9fd0' });
    label(g, cx, 579, d[1], { anchor: 'middle', fill: '#e6e6e6' });
  });
  rect(g, 484, 1123, 977, 4, '#eeeeee');
  rect(g, 1461, 1123, 184, 4, '#b3b3b3');
}

// ---------- point & figure panel
{
  const g = svg.append('g');
  rect(g, 1657, 0, 847, 800, '#000');
  titleBar(g, 1657, 847, 0, 1670, 1687, 'OKEA [OSS] - Historical Point & Figure', 2443, false, 12.6);
  rect(g, 1658, 24, 846, 24, '#e0e0e0');
  label(g, 2466, 38, 'Box size = ', { anchor: 'end', size: 11, fill: '#333' });
  label(g, 2466, 38, '1', { size: 12, fill: '#333' }).attr('dx', 2);
  label(g, 2474, 33, '%', { size: 10, fill: '#333' });

  const col = d3.scaleLinear().domain([0, 28]).range([1736.6, 2268.2]);
  const row = d3.scaleLinear().domain([0, 37]).range([67.3, 770.3]);
  const cells = [];
  pfTops.forEach((top, c) => d3.range(top, pfBottoms[c] + 1).forEach(r => {
    const sp = pfSpecial.find(s => s[0] === c && s[1] === r);
    cells.push({ c, r, s: sp ? sp[2] : pfKinds[c] });
  }));
  g.append('g').attr('text-anchor', 'middle').attr('font-size', 15).attr('font-weight', 'bold')
    .selectAll('text').data(cells).join('text')
    .attr('x', d => col(d.c)).attr('y', d => row(d.r)).attr('dy', '0.36em')
    .attr('fill', d => pfKinds[d.c] === 'X' ? C.lime : C.red).text(d => d.s);
  g.append('g').selectAll('text').data(pfRowLabels).join('text')
    .attr('x', 1722).attr('y', d => row(d[0])).attr('dy', '0.36em').attr('text-anchor', 'end')
    .attr('font-size', 15.5).attr('font-weight', 'bold').attr('fill', '#262626').text(d => d[1]);
  g.append('g').selectAll('text').data(pfMonths).join('text')
    .attr('x', d => col(d[1])).attr('y', 790).attr('dy', '0.36em').attr('text-anchor', 'middle')
    .attr('font-size', 15).attr('font-weight', 'bold').attr('fill', '#262626').text(d => d[0]);
  [['Target Price: 42.1538', 3, C.lime], ['Buy: 32.5447', 29, C.lime], ['Last: 32.1500', 31, '#ff6a00']].forEach(d => {
    g.append('line').attr('x1', 2276).attr('x2', 2304).attr('y1', row(d[1])).attr('y2', row(d[1])).attr('stroke', d[2]);
    label(g, 2311, row(d[1]), d[0], { size: 15.5, bold: true, fill: d[2] });
  });
}

// ---------- trend indicator panel
{
  const g = svg.append('g');
  rect(g, 1657, 800, 847, 327, '#000');
  titleBar(g, 1657, 847, 800, 1670, 1687, 'OKEA - Chart - TEKNISKE MODELLBASERTE SIGNALER - TRENDINDIKATOR 8/20 DAGER', 2443, false, 11.3);
  toolbar(g, 1657, 847, 825, 27, { ohlc: -50, range: 1729, res: 1752, div1: 1763.5, a: 1778, b: 1802, c: 1824, div2: 1838.5, gear: 1853, doc: 1876, plus: 1899, sync: 1921, back: 1944, end: 2490.4 }, '6M', 'D', statsLong);
  label(g, 1663, 838.5, 'Line type', { size: 12 });
  const x = d3.scaleLinear().domain([0, 123]).range([1664.2, 2412]);
  const y = d3.scaleLinear().domain([20, 45]).range([1092.3, 868.3]);
  drawLine(g, dailyEma8, x, y, C.red, 2);
  drawLine(g, dailyEma20, x, y, C.blue, 2);
  rect(g, 2449.5, 852, 1, 250, C.dim);
  rect(g, 1658, 1102, 792, 1, C.dim);
  priceAxis(g, y, d3.range(20, 46, 5), 2449.6, null, C.dim);
  const a = timeAxis(g, x, dailyTickBars, dailyTickLabels, 1102, C.dim);
  a.selectAll('text').filter((d, i) => i === 0).attr('text-anchor', 'start');
  tag(g, 2451.7, y(32.0034) - 2, 51, '32.0034', C.blue, '#222');
  tag(g, 2451.7, y(31.6028) + 9, 51, '31.6028', C.red, '#fff');
  badge(g, 1662.5, 856, 78.5, 'EMA  Close 8', '#400000', C.red);
  badge(g, 1749, 856, 84, 'EMA  Close 20', '#003a50', C.blue);
  rect(g, 1658, 1123, 846, 4, '#eeeeee');
  rect(g, 2363, 1123, 126, 4, '#b3b3b3');
}
</script>
</body>
</html>
